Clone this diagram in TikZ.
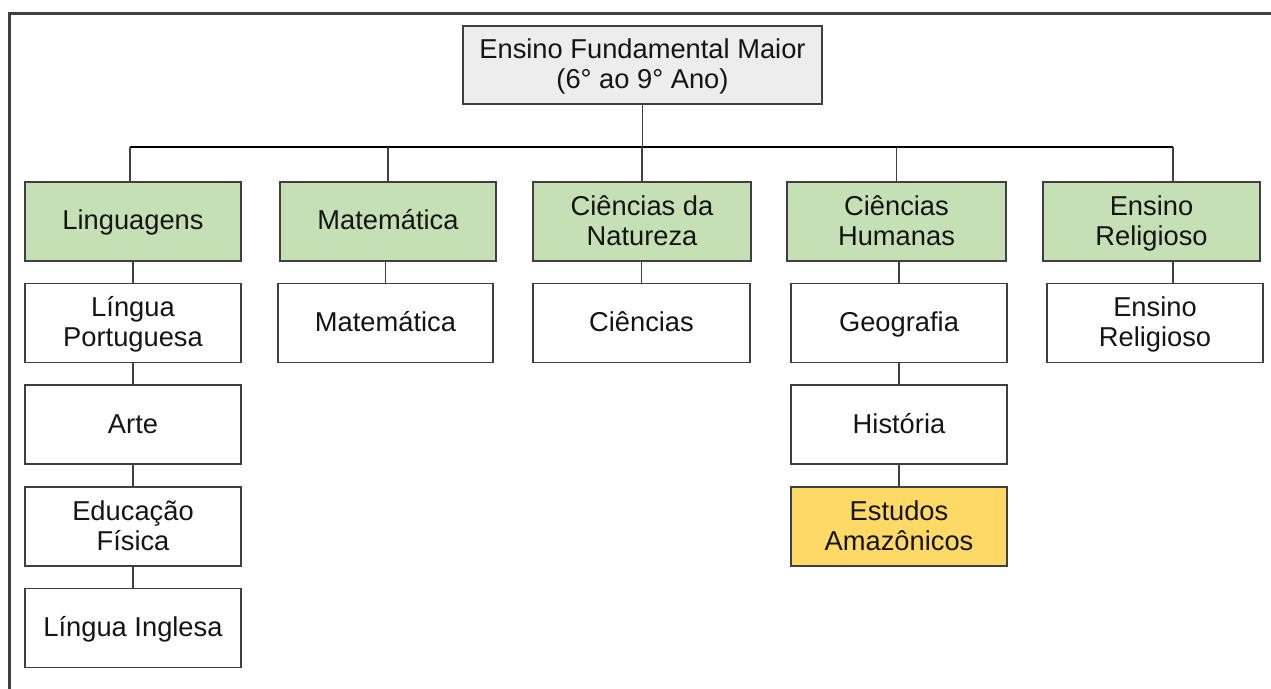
\documentclass[tikz,border=0pt]{standalone}
\usepackage{fontspec}
\setmainfont{Liberation Sans}
\definecolor{boxgreen}{HTML}{C5E0B4}
\definecolor{boxgray}{HTML}{EDEDED}
\definecolor{boxyellow}{HTML}{FFD966}
\definecolor{edge}{HTML}{404040}
\definecolor{ink}{HTML}{151515}
\newcommand{\mystrut}{\rule[-6.5bp]{0pt}{30bp}}
\tikzset{
  box/.style={draw=edge, line width=1.3bp, rectangle, inner sep=0pt,
    minimum height=79bp, align=center, text=ink,
    font=\fontsize{27.3bp}{30bp}\selectfont,
    execute at begin node=\mystrut, execute at end node=\mystrut},
  areabox/.style={box, fill=boxgreen},
  subbox/.style={box, fill=white},
  link/.style={draw=edge, line width=1.3bp},
}
\begin{document}
\begin{tikzpicture}[x=1bp,y=-1bp]
\useasboundingbox (0,0) rectangle (1271,689);
\fill[white] (0,0) rectangle (1271,689);
% frame
\draw[line width=3bp, draw=edge] (9,689) -- (9,13.5) -- (1271,13.5);

% top
\node[box, fill=boxgray, minimum width=359bp, minimum height=78bp] (top) at (642.5,65)
  {Ensino Fundamental Maior\mystrut\\\mystrut(6° ao 9° Ano)};

% areas
\node[areabox, minimum width=216bp] (ling) at (133,221.5) {Linguagens};
\node[areabox, minimum width=216bp] (mat) at (388,221.5) {Matemática};
\node[areabox, minimum width=218bp] (cn) at (642,221.5) {Ciências da\mystrut\\\mystrut Natureza};
\node[areabox, minimum width=219bp] (ch) at (896.5,221.5) {Ciências\mystrut\\\mystrut Humanas};
\node[areabox, minimum width=217bp] (er) at (1151.5,221.5) {Ensino\mystrut\\\mystrut Religioso};

% Linguagens column
\node[subbox, minimum width=216bp] (lp) at (133,323) {Língua\mystrut\\\mystrut Portuguesa};
\node[subbox, minimum width=216bp] (arte) at (133,424.5) {Arte};
\node[subbox, minimum width=216bp] (ef) at (133,526.5) {Educação\mystrut\\\mystrut Física};
\node[subbox, minimum width=216bp] (li) at (133,628) {Língua Inglesa};

% Matemática column
\node[subbox, minimum width=215bp] (mat1) at (385.5,323) {Matemática};

% Ciências da Natureza column
\node[subbox, minimum width=217bp] (cien) at (641.5,323) {Ciências};

% Ciências Humanas column
\node[subbox, minimum width=216bp] (geo) at (899,323) {Geografia};
\node[subbox, minimum width=216bp] (hist) at (899,424.5) {História};
\node[box, fill=boxyellow, minimum width=216bp] (est) at (899,526.5) {Estudos\mystrut\\\mystrut Amazônicos};

% Ensino Religioso column
\node[subbox, minimum width=216bp] (er1) at (1155,323) {Ensino\mystrut\\\mystrut Religioso};

% connectors
\coordinate (barL) at (130,147);
\coordinate (barR) at (1173,147);
\draw[link, draw=black] (barL) -- (barR);
\draw[link] (top.south) -- (top.south |- barL);
\draw[link] (barL) -- (barL |- ling.north);
\draw[link] (mat.north |- barL) -- (mat.north);
\draw[link] (cn.north |- barL) -- (cn.north);
\draw[link] (ch.north |- barL) -- (ch.north);
\draw[link] (barR) -- (barR |- er.north);

\draw[link] (ling.south) -- (lp.north);
\draw[link] (lp.south) -- (arte.north);
\draw[link] (arte.south) -- (ef.north);
\draw[link] (ef.south) -- (li.north);

\draw[link] (mat1.north |- mat.south) -- (mat1.north);
\draw[link] (cien.north |- cn.south) -- (cien.north);

\draw[link] (geo.north |- ch.south) -- (geo.north);
\draw[link] (geo.south) -- (hist.north);
\draw[link] (hist.south) -- (est.north);

\draw[link] (er.south -| barR) -- (er1.north -| barR);
\end{tikzpicture}
\end{document}
